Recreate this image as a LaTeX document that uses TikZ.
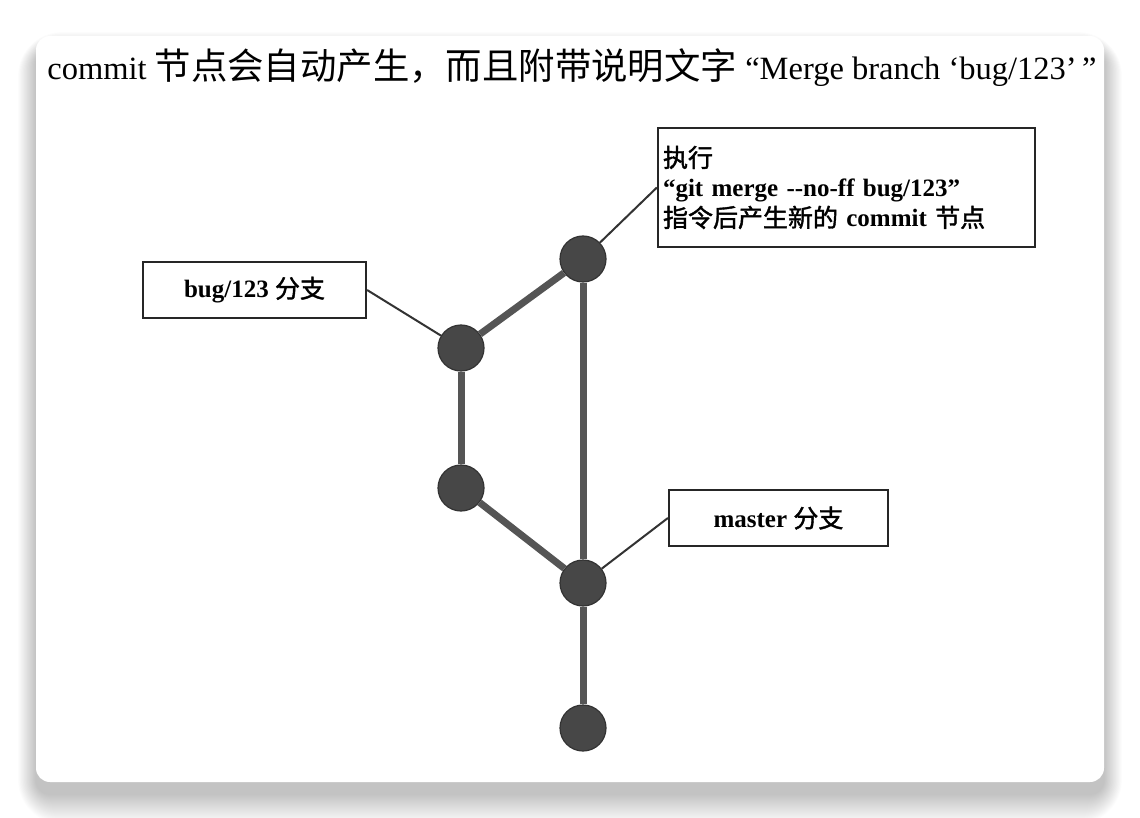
\documentclass[tikz,border=0pt]{standalone}
\usepackage{fontspec}
\setmainfont{Liberation Serif}
\newfontfamily\cjk{Noto Sans CJK SC}[Scale=1.12]
\newfontfamily\cjkb{Noto Sans CJK SC}[FakeBold=1.6]
\usetikzlibrary{positioning}

\definecolor{nodegray}{HTML}{474747}
\definecolor{linegray}{HTML}{555555}

\newcommand\zh[1]{{\cjkb\mdseries #1}}

\tikzset{
  commit/.style={circle, fill=nodegray, draw=black!80, line width=1.2pt, minimum size=46pt, inner sep=0pt},
  branch/.style={line width=7pt, draw=linegray},
  labelbox/.style={rectangle, draw=black!85, line width=2.2pt, fill=white, inner sep=0pt,
    font=\fontsize{25}{30}\selectfont\bfseries},
  pointer/.style={line width=2pt, draw=black!80},
}

\begin{document}
\begin{tikzpicture}[x=1pt, y=-1pt]
  \useasboundingbox (0,0) rectangle (1140,818);
  % card with soft shadow
  \foreach \i in {1,...,30}
    \fill[black, opacity=0.006, rounded corners=14+\i] (36-0.6*\i,50-0.6*\i) rectangle (1104+0.6*\i,794+\i);
  \fill[white, rounded corners=14] (36,36) rectangle (1104,782);

  \node (title) at (572,68) {\fontsize{32.5}{36}\selectfont commit {\cjk 节点会自动产生，而且附带说明文字}~“Merge branch ‘bug/123’\,”};

  % commits
  \node[commit] (merge) at (583,259) {};
  \node[commit] (bug1) at (461,348) {};
  \node[commit] (bug2) at (461,488) {};
  \node[commit] (master) at (583,583) {};
  \node[commit] (base) at (583,728) {};

  % labels
  \node[labelbox, text width=367pt, inner xsep=5pt, minimum height=119pt, align=left] (mergebox) at (846.5,187.5)
    {\zh{执行}\\“git merge -{}-no-ff bug/123”\\\zh{指令后产生新的} commit \zh{节点}};
  \node[labelbox, minimum width=223pt, minimum height=56pt] (bugbox) at (254.5,290) {bug/123 \zh{分支}};
  \node[labelbox, minimum width=219pt, minimum height=56pt] (masterbox) at (778.5,518) {master \zh{分支}};

  \begin{scope}[branch]
    \draw (merge) -- (bug1);
    \draw (bug1) -- (bug2);
    \draw (bug2) -- (master);
    \draw (merge) -- (master);
    \draw (master) -- (base);
  \end{scope}

  \begin{scope}[pointer]
    \draw (bugbox.east) -- (bug1);
    \draw (mergebox.west) -- (merge);
    \draw (masterbox.west) -- (master);
  \end{scope}
\end{tikzpicture}
\end{document}
